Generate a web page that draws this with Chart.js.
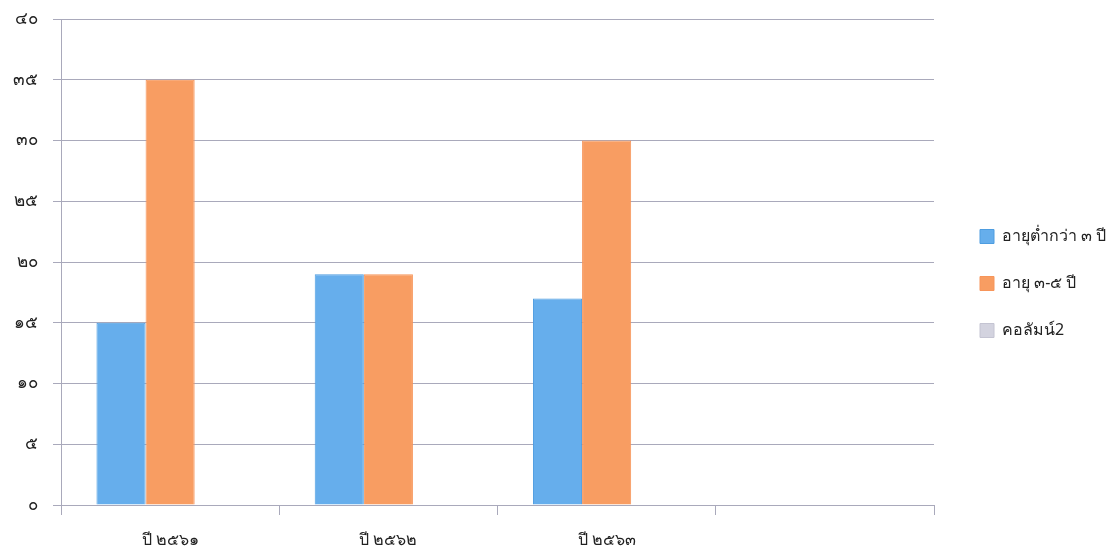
<!DOCTYPE html>
<html>
<head>
<meta charset="utf-8">
<script src="https://cdn.jsdelivr.net/npm/chart.js@4"></script>
<style>
  html, body { margin: 0; padding: 0; background: #fff; }
  #wrap { width: 1118px; height: 548px; }
</style>
</head>
<body>
<div id="wrap"><canvas id="myChart" width="1118" height="548"></canvas></div>
<script>
const years = ['ปี ๒๕๖๑', 'ปี ๒๕๖๒', 'ปี ๒๕๖๓', ''];
const under3 = [15, 19, 17, null];
const age3to5 = [35, 19, 30, null];
const column2 = [null, null, null, null];
const seriesNames = ['อายุต่ำกว่า ๓ ปี', 'อายุ ๓-๕ ปี', 'คอลัมน์2'];

const thaiDigits = ['๐', '๑', '๒', '๓', '๔', '๕', '๖', '๗', '๘', '๙'];
function toThai(n){
  return String(n).replace(/[0-9]/g, d => thaiDigits[d]);
}

const chart = (function(){
  'use strict';
  const gridColor = '#a9a9bb',
        fontFamily = "'Noto Sans', 'DejaVu Sans', sans-serif";

  // keep the legend column a fixed width, items a bit in from its left edge
  const legendFit = {
    id: 'legendFit',
    beforeInit(c){
      const fit = c.legend.fit;
      c.legend.fit = function(){
        fit.call(this);
        this.width = 184;
      };
    },
    afterLayout(c){
      c.legend.left += 15;
      c.legend.right += 15;
    }
  };

  return new Chart(document.getElementById('myChart').getContext('2d'), {
    type: 'bar',
    data: {
      labels: years,
      datasets: [
        { label: seriesNames[0], data: under3, backgroundColor: '#66aeec', borderColor: '#4e9de0', borderWidth: 1 },
        { label: seriesNames[1], data: age3to5, backgroundColor: '#f89d62', borderColor: '#f7955a', borderWidth: 1 },
        { label: seriesNames[2], data: column2, backgroundColor: '#d3d3df', borderColor: '#c4c4d2', borderWidth: 1 }
      ]
    },
    options: {
      responsive: false,
      animation: false,
      layout: { padding: { top: 19, right: 0, left: 0, bottom: 0 } },
      datasets: { bar: { categoryPercentage: 0.675, barPercentage: 1.0 } },
      plugins: {
        tooltip: { enabled: false },
        legend: {
          position: 'right',
          align: 'center',
          labels: {
            boxWidth: 14,
            boxHeight: 14,
            padding: 31,
            color: '#222',
            font: { family: fontFamily, size: 16 }
          }
        }
      },
      scales: {
        x: {
          offset: true,
          grid: { offset: true, drawOnChartArea: false, color: gridColor, tickLength: 10, lineWidth: 1 },
          border: { color: gridColor },
          ticks: {
            color: '#222', padding: 16,
            font: { family: fontFamily, size: 16 }
          },
          afterFit(s){ s.height = 43; }
        },
        y: {
          min: 0,
          max: 40,
          grid: { color: gridColor, tickLength: 8 },
          border: { color: gridColor },
          ticks: {
            stepSize: 5,
            color: '#222',
            padding: 15,
            font: { family: fontFamily, size: 17 },
            callback: v => toThai(v)
          },
          afterFit(s){ s.width = 61; s.paddingTop = 0; s.paddingBottom = 0; }
        }
      }
    },
    plugins: [legendFit]
  });
})();
</script>
</body>
</html>
